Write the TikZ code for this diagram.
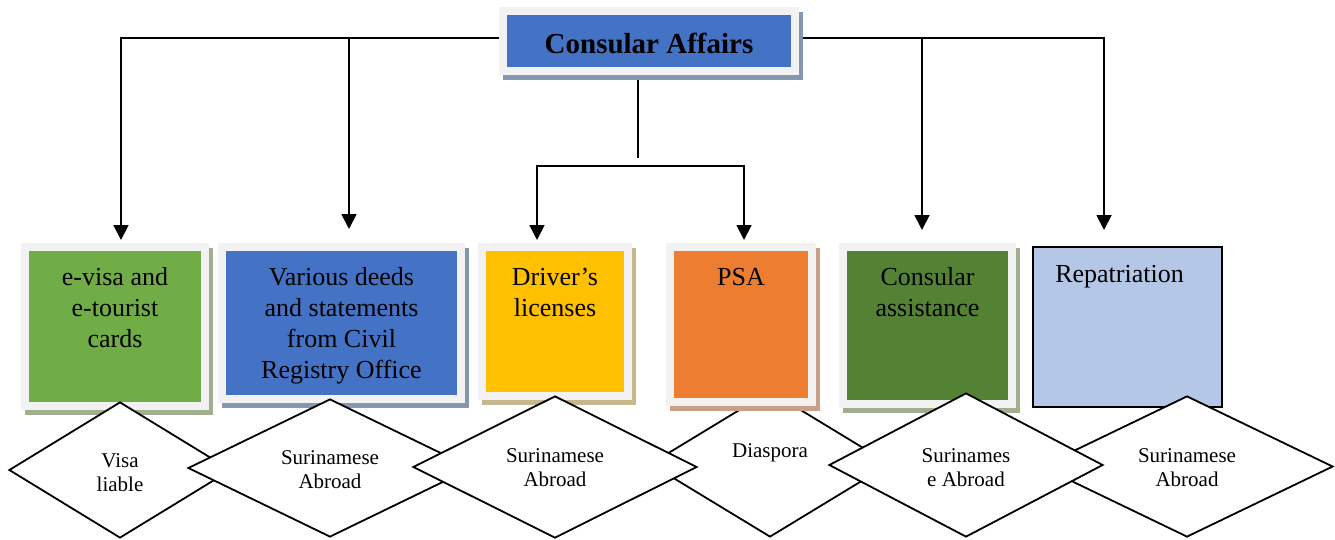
\documentclass[tikz,border=0pt]{standalone}
\usepackage{fontspec}
\setmainfont{Liberation Serif}
\usetikzlibrary{shapes.geometric,arrows.meta,calc}
\definecolor{framegray}{HTML}{F2F2F2}
\definecolor{cblue}{HTML}{4472C4}
\definecolor{cblueshadow}{HTML}{8497B0}
\definecolor{cgreen}{HTML}{70AD47}
\definecolor{cgreenshadow}{HTML}{9FAF8F}
\definecolor{cyellow}{HTML}{FFC000}
\definecolor{cyellowshadow}{HTML}{C6B78D}
\definecolor{corange}{HTML}{ED7D31}
\definecolor{corangeshadow}{HTML}{C9A08A}
\definecolor{cdkgreen}{HTML}{548235}
\definecolor{cdkgreenshadow}{HTML}{9FAE8F}
\definecolor{crepat}{HTML}{B4C7E7}
\newcommand{\shbox}[7]{%
  \fill[#7] ({#2-8+3.5},{#3-8+5}) rectangle ({#4+8+3.5},{#5+8+5});
  \fill[framegray] ({#2-8},{#3-8}) rectangle ({#4+8},{#5+8});
  \node[fill=#6, inner sep=0pt, outer sep=0pt,
        minimum width={(#4-#2)*1pt}, minimum height={(#5-#3)*1pt}]
        (#1) at ({(#2+#4)/2},{(#3+#5)/2}) {};
}
\tikzset{
  conn/.style={line width=1.8pt, -{Triangle[length=15pt,width=15pt]}},
  plainline/.style={line width=1.8pt},
  btext/.style={font=\fontsize{26}{31}\selectfont, align=center, anchor=north,
                inner sep=0pt, yshift=21.7pt},
  dtext/.style={font=\fontsize{21}{24}\selectfont, align=center, anchor=north,
                inner sep=0pt, yshift=16.8pt},
  dia/.style={diamond, draw=black, fill=white, line width=1.8pt, inner sep=0pt}
}
\begin{document}
\begin{tikzpicture}[x=1pt,y=-1pt]
\useasboundingbox (0,0) rectangle (1335,539);
% top box (position reference)
\node[inner sep=0pt, outer sep=0pt, minimum width=284pt, minimum height=52pt]
  (top) at (649,41) {};
% arrow end points
\coordinate (a1) at (121,240);
\coordinate (a2) at (349,229);
\coordinate (a3) at (537,240);
\coordinate (a4) at (744,240);
\coordinate (a5) at (922,230);
\coordinate (a6) at (1104,230);
\coordinate (jl) at (300,38);
\coordinate (jr) at (1000,38);
\coordinate (stemend) at (638,158);
\coordinate (bar) at (638,166);
% connectors
\draw[conn] ([yshift=3pt]top.west) -| (a1);
\draw[conn] (a2 |- jl) -- (a2);
\draw[conn] ([yshift=3pt]top.east) -| (a6);
\draw[conn] (a5 |- jr) -- (a5);
\draw[plainline] (top.south -| stemend) -- (stemend);
\draw[conn] (bar) -| (a3);
\draw[conn] (bar) -| (a4);
% top box drawn over line ends
\shbox{topbox}{507}{15}{791}{67}{cblue}{cblueshadow}
\node[font=\fontsize{29}{34}\selectfont\bfseries, anchor=base, inner sep=0pt]
  (toptext) at ([yshift=-12pt]topbox.center) {Consular Affairs};
% diamond behind PSA box
\node[dia, minimum width=240pt, minimum height=146pt] (d4) at (770,464) {};
% boxes
\shbox{b1}{29}{251}{201}{402}{cgreen}{cgreenshadow}
\shbox{b2}{226}{251}{457}{395}{cblue}{cblueshadow}
\shbox{b3}{486}{251}{624}{392}{cyellow}{cyellowshadow}
\shbox{b4}{674}{251}{808}{398}{corange}{corangeshadow}
\shbox{b5}{847}{251}{1008}{400}{cdkgreen}{cdkgreenshadow}
\node[draw=black, fill=crepat, line width=1.5pt, inner sep=0pt,
      minimum width=189pt, minimum height=160pt] (b6) at (1127.5,327) {};
% box texts
\node[btext] (t1) at ([yshift=-34pt]b1.north) {\strut e-visa and\\e-tourist\\cards};
\node[btext] (t2) at ([yshift=-34pt]b2.north) {\strut Various deeds\\and statements\\from Civil\\Registry Office};
\node[btext] (t3) at ([yshift=-34pt]b3.north) {\strut Driver’s\\licenses};
\node[btext] (t4) at ([yshift=-34pt]b4.north) {\strut PSA};
\node[btext] (t5) at ([yshift=-34pt]b5.north) {\strut Consular\\assistance};
\node[btext] (t6) at ([xshift=-8pt,yshift=-36pt]b6.north) {\strut Repatriation};
% diamonds
\node[dia, minimum width=292pt, minimum height=141pt] (d6) at (1187,466.5) {};
\node[dia, minimum width=222pt, minimum height=136pt] (d1) at (120,470) {};
\node[dia, minimum width=284pt, minimum height=138pt] (d2) at (330,468) {};
\node[dia, minimum width=284pt, minimum height=142pt] (d3) at (555,467) {};
\node[dia, minimum width=274pt, minimum height=144pt] (d5) at (966,465) {};
% diamond texts
\node[dtext] (dt1) at ([yshift=3pt]d1.center) {\strut Visa\\liable};
\node[dtext] (dt2) at ([yshift=4pt]d2.center) {\strut Surinamese\\Abroad};
\node[dtext] (dt3) at ([yshift=5pt]d3.center) {\strut Surinamese\\Abroad};
\node[dtext] (dt4) at ([yshift=7pt]d4.center) {\strut Diaspora};
\node[dtext] (dt5) at ([yshift=3pt]d5.center) {\strut Surinames\\e Abroad};
\node[dtext] (dt6) at ([yshift=4.5pt]d6.center) {\strut Surinamese\\Abroad};
\end{tikzpicture}
\end{document}
